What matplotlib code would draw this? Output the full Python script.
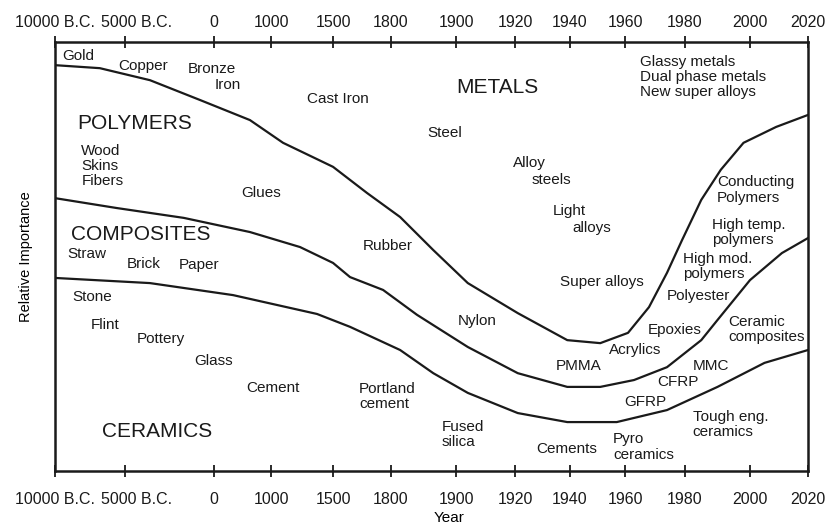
import matplotlib.pyplot as plt
import matplotlib.transforms as mtransforms
import numpy as np

plt.rcParams['font.family'] = ['Liberation Sans', 'DejaVu Sans']

# nonlinear time axis: tick years and where they sit along the axis
year_ticks = [-10000, -5000, 0, 1000, 1500, 1800, 1900, 1920, 1940, 1960, 1980, 2000, 2020]
year_labels = ['10000 B.C.', '5000 B.C.', '0', '1000', '1500', '1800', '1900',
               '1920', '1940', '1960', '1980', '2000', '2020']
tick_spacing = [0, 70, 159, 216, 278, 336, 401, 460, 515, 570, 630, 695, 753]

# boundary between metals and polymers
years_metals = [-10000, -6800, -3600, -800, 630, 1097, 1500, 1676, 1814, 1865, 1904,
                1921, 1939, 1951, 1961, 1968, 1974, 1979, 1985, 1991, 1998, 2009, 2020]
imp_metals = [94.6, 93.9, 91.1, 86.5, 81.8, 76.5, 70.9, 64.8, 59.2, 51.5, 43.8,
              36.8, 30.5, 29.8, 32.2, 38.2, 46.2, 53.8, 63.2, 70.2, 76.5, 80.2, 83.0]

# boundary between polymers and composites
years_polymers = [-10000, -5600, -1700, 630, 1234, 1500, 1588, 1759, 1840, 1904, 1921,
                  1939, 1951, 1963, 1974, 1985, 1990, 2000, 2011, 2020]
imp_polymers = [63.6, 61.3, 59.0, 55.7, 52.2, 48.5, 45.2, 42.2, 36.4, 28.9, 22.8,
                19.6, 19.6, 21.2, 24.2, 30.5, 35.2, 44.5, 50.8, 54.3]

# boundary between composites and ceramics
years_composites = [-10000, -3600, 333, 1371, 1588, 1814, 1865, 1904, 1921, 1939,
                    1957, 1974, 1990, 2005, 2020]
imp_composites = [45.0, 43.8, 41.0, 36.6, 33.6, 28.2, 22.8, 18.2, 13.5, 11.4,
                  11.4, 14.2, 19.6, 25.2, 28.2]

# (text, x, y in axes fraction, alignment, size)
labels = [
    ('Gold', 0.009, 0.967, 'left', 11),
    ('Copper', 0.117, 0.944, 'center', 11),
    ('Bronze', 0.208, 0.937, 'center', 11),
    ('Iron', 0.230, 0.900, 'center', 11),
    ('Cast Iron', 0.376, 0.867, 'center', 11),
    ('METALS', 0.588, 0.895, 'center', 15),
    ('Glassy metals\nDual phase metals\nNew super alloys', 0.777, 0.918, 'left', 11),
    ('POLYMERS', 0.106, 0.809, 'center', 15),
    ('Wood\nSkins\nFibers', 0.035, 0.711, 'left', 11),
    ('Glues', 0.274, 0.648, 'center', 11),
    ('COMPOSITES', 0.114, 0.552, 'center', 15),
    ('Straw', 0.016, 0.506, 'left', 11),
    ('Brick', 0.118, 0.483, 'center', 11),
    ('Paper', 0.191, 0.480, 'center', 11),
    ('Rubber', 0.442, 0.524, 'center', 11),
    ('Stone', 0.050, 0.406, 'center', 11),
    ('Flint', 0.066, 0.340, 'center', 11),
    ('Pottery', 0.141, 0.308, 'center', 11),
    ('Glass', 0.211, 0.256, 'center', 11),
    ('Cement', 0.290, 0.193, 'center', 11),
    ('Portland\ncement', 0.404, 0.174, 'left', 11),
    ('Steel', 0.518, 0.788, 'center', 11),
    ('Alloy', 0.608, 0.718, 'left', 11),
    ('steels', 0.633, 0.678, 'left', 11),
    ('Light', 0.661, 0.606, 'left', 11),
    ('alloys', 0.687, 0.566, 'left', 11),
    ('Super alloys', 0.726, 0.441, 'center', 11),
    ('Conducting\nPolymers', 0.879, 0.655, 'left', 11),
    ('High temp.\npolymers', 0.873, 0.556, 'left', 11),
    ('High mod.\npolymers', 0.834, 0.476, 'left', 11),
    ('Polyester', 0.813, 0.408, 'left', 11),
    ('Nylon', 0.560, 0.350, 'center', 11),
    ('Epoxies', 0.823, 0.329, 'center', 11),
    ('Ceramic\ncomposites', 0.894, 0.330, 'left', 11),
    ('Acrylics', 0.770, 0.282, 'center', 11),
    ('PMMA', 0.695, 0.245, 'center', 11),
    ('MMC', 0.871, 0.245, 'center', 11),
    ('CFRP', 0.827, 0.207, 'center', 11),
    ('GFRP', 0.784, 0.161, 'center', 11),
    ('Tough eng.\nceramics', 0.847, 0.108, 'left', 11),
    ('Fused\nsilica', 0.514, 0.084, 'left', 11),
    ('Cements', 0.679, 0.051, 'center', 11),
    ('Pyro\nceramics', 0.741, 0.056, 'left', 11),
    ('CERAMICS', 0.135, 0.091, 'center', 15),
]


def to_axis(x):
    return np.interp(x, year_ticks, tick_spacing)


def from_axis(p):
    return np.interp(p, tick_spacing, year_ticks)


fig = plt.figure(figsize=(8.3, 5.27), dpi=100)
ax = fig.add_axes([0.0663, 0.1063, 0.9072, 0.8140])
ax.set_xscale('function', functions=(to_axis, from_axis))

for yrs, imp in [(years_metals, imp_metals), (years_polymers, imp_polymers),
                 (years_composites, imp_composites)]:
    ax.plot(yrs, imp, color='#1a1a1a', lw=1.6, solid_joinstyle='round')

ax.set_xlim(-10000, 2020)
ax.set_ylim(0, 100)
ax.set_xticks(year_ticks)
ax.set_xticklabels(year_labels)
ax.set_yticks([])
ax.xaxis.set_minor_locator(plt.NullLocator())
ax.tick_params(axis='x', which='major', direction='inout', length=8, width=1.3,
               top=True, labeltop=True, labelsize=11.5, pad=11, colors='#1a1a1a')
for side in ax.spines.values():
    side.set_linewidth(1.8)
    side.set_color('#1a1a1a')

# top labels sit closer to the frame than the bottom ones
down = mtransforms.ScaledTranslation(0, -0.09, fig.dpi_scale_trans)
for tick in ax.xaxis.get_major_ticks():
    tick.label2.set_transform(tick.label2.get_transform() + down)
# "5000 B.C." is pushed right of its tick in the original
nudge = mtransforms.ScaledTranslation(0.12, 0, fig.dpi_scale_trans)
tk = ax.xaxis.get_major_ticks()[1]
tk.label1.set_transform(tk.label1.get_transform() + nudge)
tk.label2.set_transform(tk.label2.get_transform() + nudge)

ax.set_xlabel('Year', fontsize=11)
ax.xaxis.set_label_coords(0.523, -0.094)
ax.set_ylabel('Relative Importance', fontsize=10.5)
ax.yaxis.set_label_coords(-0.029, 0.5)

for txt, fx, fy, ha, size in labels:
    ax.text(fx, fy, txt, transform=ax.transAxes, ha=ha, va='center',
            fontsize=size, linespacing=1.1, color='#1a1a1a')

fig.savefig('out.png', dpi=100)
